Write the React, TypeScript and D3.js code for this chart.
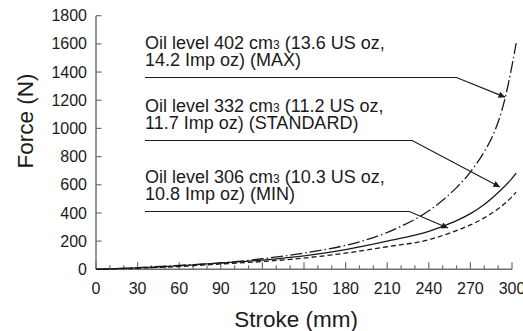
import React from 'react'
import * as d3 from 'd3'

const strokeMax = [0, 30, 60, 90, 120, 150, 180, 200, 220, 240, 250, 260, 270, 280, 285, 290, 295, 300, 303]
const forceMax = [0, 12, 28, 45, 75, 115, 170, 225, 305, 415, 490, 580, 690, 835, 925, 1045, 1213, 1445, 1605]

const strokeStd = [0, 30, 60, 90, 120, 150, 180, 210, 240, 250, 260, 270, 280, 290, 300, 303]
const forceStd = [0, 10, 25, 45, 65, 95, 140, 200, 270, 305, 345, 395, 460, 545, 645, 683]

const strokeMin = [0, 30, 60, 90, 120, 150, 180, 210, 240, 250, 260, 270, 280, 290, 300, 303]
const forceMin = [0, 8, 20, 38, 55, 80, 115, 160, 210, 240, 275, 315, 365, 430, 515, 548]

const xTicks = [0, 30, 60, 90, 120, 150, 180, 210, 240, 270, 300]
const xMinorTicks = d3.range(0, 301, 10)
const yTicks = [0, 200, 400, 600, 800, 1000, 1200, 1400, 1600, 1800]

const labels = [
    { line1: ['Oil level 402 cm', '3', ' (13.6 US oz,'], line2: '14.2 Imp oz) (MAX)', tip: [295, 1222], elbowX: 260 },
    { line1: ['Oil level 332 cm', '3', ' (11.2 US oz,'], line2: '11.7 Imp oz) (STANDARD)', tip: [291.3, 584], elbowX: 228 },
    { line1: ['Oil level 306 cm', '3', ' (10.3 US oz,'], line2: '10.8 Imp oz) (MIN)', tip: [253.8, 293], elbowX: 226 },
]
const labelTop = [49, 112, 183]

export default function App() {
    const width = 523
    const height = 331
    const x = d3.scaleLinear().domain([0, 300]).range([96, 512])
    const y = d3.scaleLinear().domain([0, 1800]).range([269.3, 15.7])

    const line = d3.line<[number, number]>()
        .x(d => x(d[0]))
        .y(d => y(d[1]))
        .curve(d3.curveMonotoneX)

    const series = [
        { s: strokeMax, f: forceMax, dash: '12,3,1.5,3' },
        { s: strokeStd, f: forceStd, dash: null },
        { s: strokeMin, f: forceMin, dash: '5,3' },
    ]

    const font = 'Liberation Sans, Arial, Helvetica, sans-serif'
    const axisColor = '#707070'
    const ink = '#1a1a1a'

    return (
        <svg width={width} height={height} style={{ position: 'absolute', left: 0, top: 0, background: '#fff' }} fontFamily={font}>
            <defs>
                <marker id="arrow" viewBox="0 0 10 10" refX="10" refY="5" markerWidth="10" markerHeight="6.5" markerUnits="userSpaceOnUse" orient="auto">
                    <path d="M0,0 L10,5 L0,10 z" fill={ink} />
                </marker>
            </defs>

            {/* axes */}
            <line x1={x(0)} x2={x(0)} y1={y(1800)} y2={y(0)} stroke={axisColor} strokeWidth={1.5} />
            <line x1={x(0)} x2={x(300)} y1={y(0)} y2={y(0)} stroke={axisColor} strokeWidth={1.5} />
            {yTicks.map(t => (
                <g key={'y' + t}>
                    <line x1={x(0)} x2={x(0) + 5.5} y1={y(t)} y2={y(t)} stroke={axisColor} strokeWidth={1.2} />
                    <text x={87} y={y(t)} dy="0.35em" textAnchor="end" fontSize={16} fill={ink}>{t}</text>
                </g>
            ))}
            {xMinorTicks.map(t => (
                <line key={'xm' + t} x1={x(t)} x2={x(t)} y1={y(0)} y2={y(0) - (t % 30 === 0 ? 7 : 4)} stroke={axisColor} strokeWidth={1.2} />
            ))}
            {xTicks.map(t => (
                <text key={'x' + t} x={x(t)} y={294} textAnchor="middle" fontSize={16} fill={ink}>{t}</text>
            ))}

            <text x={296} y={327} textAnchor="middle" fontSize={22.5} fill={ink}>Stroke (mm)</text>
            <text transform="translate(33,121) rotate(-90)" textAnchor="middle" fontSize={22.5} fill={ink}>Force (N)</text>

            {/* curves */}
            {series.map((d, i) => (
                <path key={i} d={line(d.s.map((s, j) => [s, d.f[j]] as [number, number])) || ''}
                    fill="none" stroke={ink} strokeWidth={1.3} strokeDasharray={d.dash || undefined} />
            ))}

            {/* annotations */}
            {labels.map((l, i) => {
                const top = labelTop[i]
                const underline = top + 28.5
                return (
                    <g key={'l' + i}>
                        <text x={145} y={top} fontSize={18} fill={ink}>
                            {l.line1[0]}<tspan fontSize={12}>{l.line1[1]}</tspan>{l.line1[2]}
                        </text>
                        <text x={145} y={top + 17} fontSize={18} fill={ink}>{l.line2}</text>
                        <polyline points={`145,${underline} ${x(l.elbowX)},${underline} ${x(l.tip[0])},${y(l.tip[1])}`}
                            fill="none" stroke={ink} strokeWidth={1.2} markerEnd="url(#arrow)" />
                    </g>
                )
            })}
        </svg>
    )
}
